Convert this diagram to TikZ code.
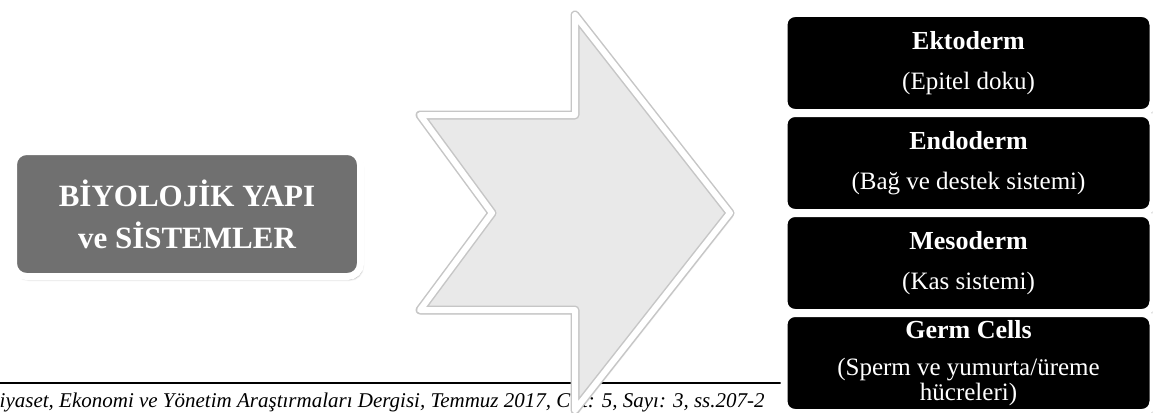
\documentclass[tikz,border=0pt]{standalone}
\usepackage{fontspec}
\setmainfont{Liberation Serif}
\usepackage[table]{xcolor}
\usetikzlibrary{positioning,shadows.blur}

\definecolor{yapigray}{RGB}{112,112,112}
\definecolor{okgray}{RGB}{233,233,233}

\tikzset{
  softshadow/.style={blur shadow={shadow xshift=2pt,shadow yshift=-3pt,shadow blur steps=6,shadow opacity=35}},
  yapibox/.style={draw=white,line width=7,fill=yapigray,rounded corners=13,outer sep=0,inner sep=0,
    minimum width=347pt,minimum height=125pt,text=white,align=center,softshadow},
  layerbox/.style={draw=white,line width=7,fill=black,rounded corners=11,outer sep=0,inner sep=0,
    minimum width=369pt,minimum height=99pt,text=white,align=center,softshadow},
}

\begin{document}
\begin{tikzpicture}[x=1pt,y=1pt,yscale=-1,xscale=1]

\useasboundingbox (0,0) rectangle (1153,412);
\clip (0,0) rectangle (1153,412);

% footer of the page
\draw [line width=1.5]    (0,383) -- (790,383) ;
\draw (-11,407) node (dergi) [anchor=base west][inner sep=0pt] [font=\fontsize{21}{21}\selectfont\itshape] {Siyaset, Ekonomi ve Yönetim Araştırmaları Dergisi, Temmuz 2017, Cilt: 5, Sayı: 3, ss.207-2};

% big arrow
\fill [okgray,softshadow] (575,15) -- (730,213) -- (575,410) -- (575,310) -- (420,310) -- (492,213) -- (420,115) -- (575,115) -- cycle ;
\draw [gray!45,line width=9,line join=round]  (575,15) -- (730,213) -- (575,410) -- (575,310) -- (420,310) -- (492,213) -- (420,115) -- (575,115) -- cycle ;
\draw [white,line width=6,line join=round]  (575,15) -- (730,213) -- (575,410) -- (575,310) -- (420,310) -- (492,213) -- (420,115) -- (575,115) -- cycle ;

% Text Node
\draw (187,214) node (yapi) [yapibox] [font=\fontsize{31}{42}\selectfont\bfseries] {BİYOLOJİK YAPI\\ve SİSTEMLER};

\draw (968.5,63) node (ekto) [layerbox] [font=\fontsize{25}{40}\selectfont] {{\bfseries\fontsize{26}{26}\selectfont Ektoderm}\\(Epitel doku)};
\node (endo) [layerbox,below=1pt of ekto] [font=\fontsize{25}{40}\selectfont] {{\bfseries\fontsize{26}{26}\selectfont Endoderm}\\(Bağ ve destek sistemi)};
\node (meso) [layerbox,below=1pt of endo] [font=\fontsize{25}{40}\selectfont] {{\bfseries\fontsize{26}{26}\selectfont Mesoderm}\\(Kas sistemi)};
\node (germ) [layerbox,below=1pt of meso] [font=\fontsize{25}{25}\selectfont] {{\bfseries\fontsize{26}{26}\selectfont Germ Cells}\\[12pt](Sperm ve yumurta/üreme\\hücreleri)};

\end{tikzpicture}
\end{document}
